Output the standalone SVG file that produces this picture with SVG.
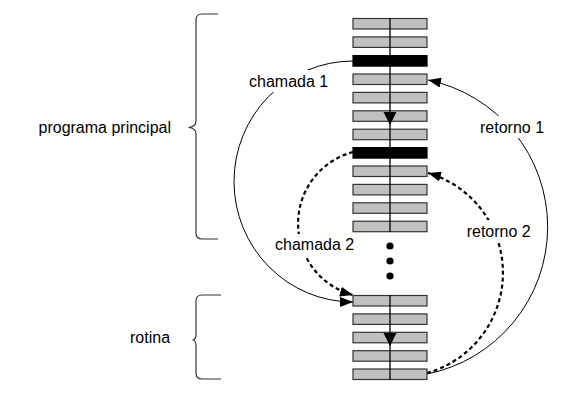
<svg xmlns="http://www.w3.org/2000/svg" width="580" height="407" viewBox="0 0 580 407">
<style>
.bar{fill:#c0c0c0;stroke:#333;stroke-width:1.2}
.blk{fill:#000;stroke:#000;stroke-width:1.2}
.vl{stroke:#000;stroke-width:1.3;fill:none}
.brace{fill:none;stroke:#333;stroke-width:1.2}
.lbl{font-family:"Liberation Sans",Arial,sans-serif;font-size:16px;fill:#000}
.solid{fill:none;stroke:#000;stroke-width:1}
.dash{fill:none;stroke:#000;stroke-width:2.2;stroke-dasharray:4 3}
.bg{fill:#fff}
</style>
<defs>
<marker id="ah" markerUnits="userSpaceOnUse" markerWidth="14" markerHeight="10" refX="13" refY="5" orient="auto">
<path d="M0,0 L13,5 L0,10 Z" fill="#000"/>
</marker>
</defs>
<g id="braces">
<path class="brace" d="M218 14 H202 Q196 14 196 20 V121 Q196 127 188.5 127.5 Q196 128 196 134 V233 Q196 239 202 239 H218"/>
<path class="brace" d="M221 295 H202 Q196 295 196 301 V334 Q196 340 192.5 340 Q196 340 196 346 V373 Q196 379 202 379 H221"/>
</g>
<g id="connectors">
<path class="solid" d="M353 61 A119 120.5 0 0 0 353 302" marker-end="url(#ah)"/>
<path class="dash" d="M353 152 A74 74 0 0 0 353 295" marker-end="url(#ah)"/>
<path class="solid" d="M427 374 A150 150 0 0 0 428 80" marker-end="url(#ah)"/>
<path class="dash" d="M427 373 A104 104 0 0 0 428 173" marker-end="url(#ah)"/>
</g>
<g id="programa">
<rect class="bar" x="353" y="18.5" width="74" height="10.5"/>
<rect class="bar" x="353" y="36.9" width="74" height="10.5"/>
<rect class="blk" x="353" y="55.6" width="74" height="10.5"/>
<rect class="bar" x="353" y="74" width="74" height="10.5"/>
<rect class="bar" x="353" y="92.4" width="74" height="10.5"/>
<rect class="bar" x="353" y="110.8" width="74" height="10.5"/>
<rect class="bar" x="353" y="129.2" width="74" height="10.5"/>
<rect class="blk" x="353" y="147.6" width="74" height="10.5"/>
<rect class="bar" x="353" y="166" width="74" height="10.5"/>
<rect class="bar" x="353" y="184.4" width="74" height="10.5"/>
<rect class="bar" x="353" y="202.8" width="74" height="10.5"/>
<rect class="bar" x="353" y="221.2" width="74" height="10.5"/>
<line class="vl" x1="390" y1="18" x2="390" y2="232"/>
<polygon points="383.5,112 396.5,112 390,125" fill="#000"/>
</g>
<g id="dots">
<circle cx="390" cy="246" r="3.6" fill="#000"/>
<circle cx="390" cy="261" r="3.6" fill="#000"/>
<circle cx="390" cy="276" r="3.6" fill="#000"/>
</g>
<g id="rotina">
<rect class="bar" x="353" y="295.5" width="74" height="10.5"/>
<rect class="bar" x="353" y="313.9" width="74" height="10.5"/>
<rect class="bar" x="353" y="332.3" width="74" height="10.5"/>
<rect class="bar" x="353" y="350.7" width="74" height="10.5"/>
<rect class="bar" x="353" y="369" width="74" height="10.5"/>
<line class="vl" x1="390" y1="295" x2="390" y2="380"/>
<polygon points="383.5,333 396.5,333 390,346" fill="#000"/>
</g>
<g id="labels">
<text class="lbl" x="38.5" y="132.7">programa principal</text>
<text class="lbl" x="130" y="343.3">rotina</text>
<rect class="bg" x="245" y="70" width="88" height="22"/>
<text class="lbl" x="249" y="86.7">chamada 1</text>
<rect class="bg" x="271" y="234" width="88" height="22"/>
<text class="lbl" x="275" y="250">chamada 2</text>
<rect class="bg" x="476" y="116" width="72" height="22"/>
<text class="lbl" x="480" y="133">retorno 1</text>
<rect class="bg" x="463" y="220" width="72" height="22"/>
<text class="lbl" x="466.7" y="236.7">retorno 2</text>
</g>
</svg>
